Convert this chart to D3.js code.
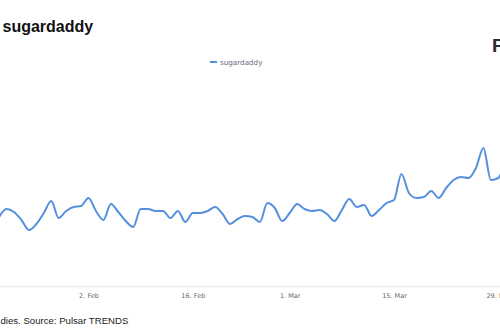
<!DOCTYPE html>
<html><head><meta charset="utf-8">
<script src="https://cdn.jsdelivr.net/npm/d3@7"></script>
<style>html,body{margin:0;padding:0;background:#fff;overflow:hidden}</style>
</head><body>
<svg id="c" width="500" height="330"></svg>
<script>
const title = "sugardaddy";
const seriesName = "sugardaddy";
const footer = "dies. Source: Pulsar TRENDS";
const startDate = "2021-01-21";
const values = [34.5,38.5,37,33,28,31,36.5,42.5,34,37.5,39.5,40,44,37.5,33,41,37,32.5,29.5,38.5,38.5,37.5,37.5,34,37.5,32,36.5,36.5,37.5,39.5,36,31,33.5,35,34.5,32,41.5,39,32.5,36.5,41,38.5,37.5,38,36,32.5,38,43.5,39.5,40.5,35,38,41.5,43,56,46.5,44,44.5,47.5,44,49,53,54.5,54,59,69,53,54,65.5];
const tickDates = ["2021-02-02","2021-02-16","2021-03-01","2021-03-15","2021-03-29"];

const parse = d3.utcParse("%Y-%m-%d");
const t0 = parse(startDate);
const data = values.map((v,i)=>({date:d3.utcDay.offset(t0,i), value:v}));

const svg = d3.select("#c");
const x = d3.scaleUtc().domain([parse("2021-02-02"), parse("2021-03-15")]).range([88.5, 394]);
const y = d3.scaleLinear().domain([0,100]).range([286,86]);

// axis
const axisY = 286.5;
const xAxis = d3.axisBottom(x).tickValues(tickDates.map(parse)).tickFormat(d3.utcFormat("%-d. %b")).tickSize(0).tickPadding(7);
const ag = svg.append("g").attr("transform",`translate(0,${axisY})`).call(xAxis);
ag.select(".domain").remove();
ag.selectAll("text").attr("font-family","DejaVu Sans").attr("font-size",6.5).attr("fill","#666");
svg.append("line").attr("x1",0).attr("x2",500).attr("y1",axisY).attr("y2",axisY).attr("stroke","#e6ebf1").attr("stroke-width",1.4);

// line
svg.append("path").datum(data)
  .attr("fill","none").attr("stroke","#5590de").attr("stroke-width",2)
  .attr("stroke-linejoin","round").attr("stroke-linecap","round")
  .attr("d", d3.line().x(d=>x(d.date)).y(d=>y(d.value)).curve(d3.curveMonotoneX));

// title
svg.append("text").attr("x",2.5).attr("y",32).attr("font-family","Liberation Sans, Arial, sans-serif")
  .attr("font-weight","bold").attr("font-size",16).attr("fill","#111").text(title);

// legend
svg.append("line").attr("x1",210).attr("x2",217).attr("y1",62).attr("y2",62).attr("stroke","#5590de").attr("stroke-width",2);
svg.append("text").attr("x",220).attr("y",64.5).attr("font-family","DejaVu Sans").attr("font-size",7.2).attr("fill","#5f6e7d").text(seriesName);

// logo fragment
svg.append("text").attr("x",492).attr("y",52).attr("font-family","Liberation Sans, Arial, sans-serif")
  .attr("font-weight","bold").attr("font-size",19).attr("fill","#2b2b35").text("P");

// footer
svg.append("text").attr("x",0.5).attr("y",324).attr("font-family","Liberation Sans, Arial, sans-serif")
  .attr("font-size",9.6).attr("fill","#222").text(footer);
</script>
</body></html>
